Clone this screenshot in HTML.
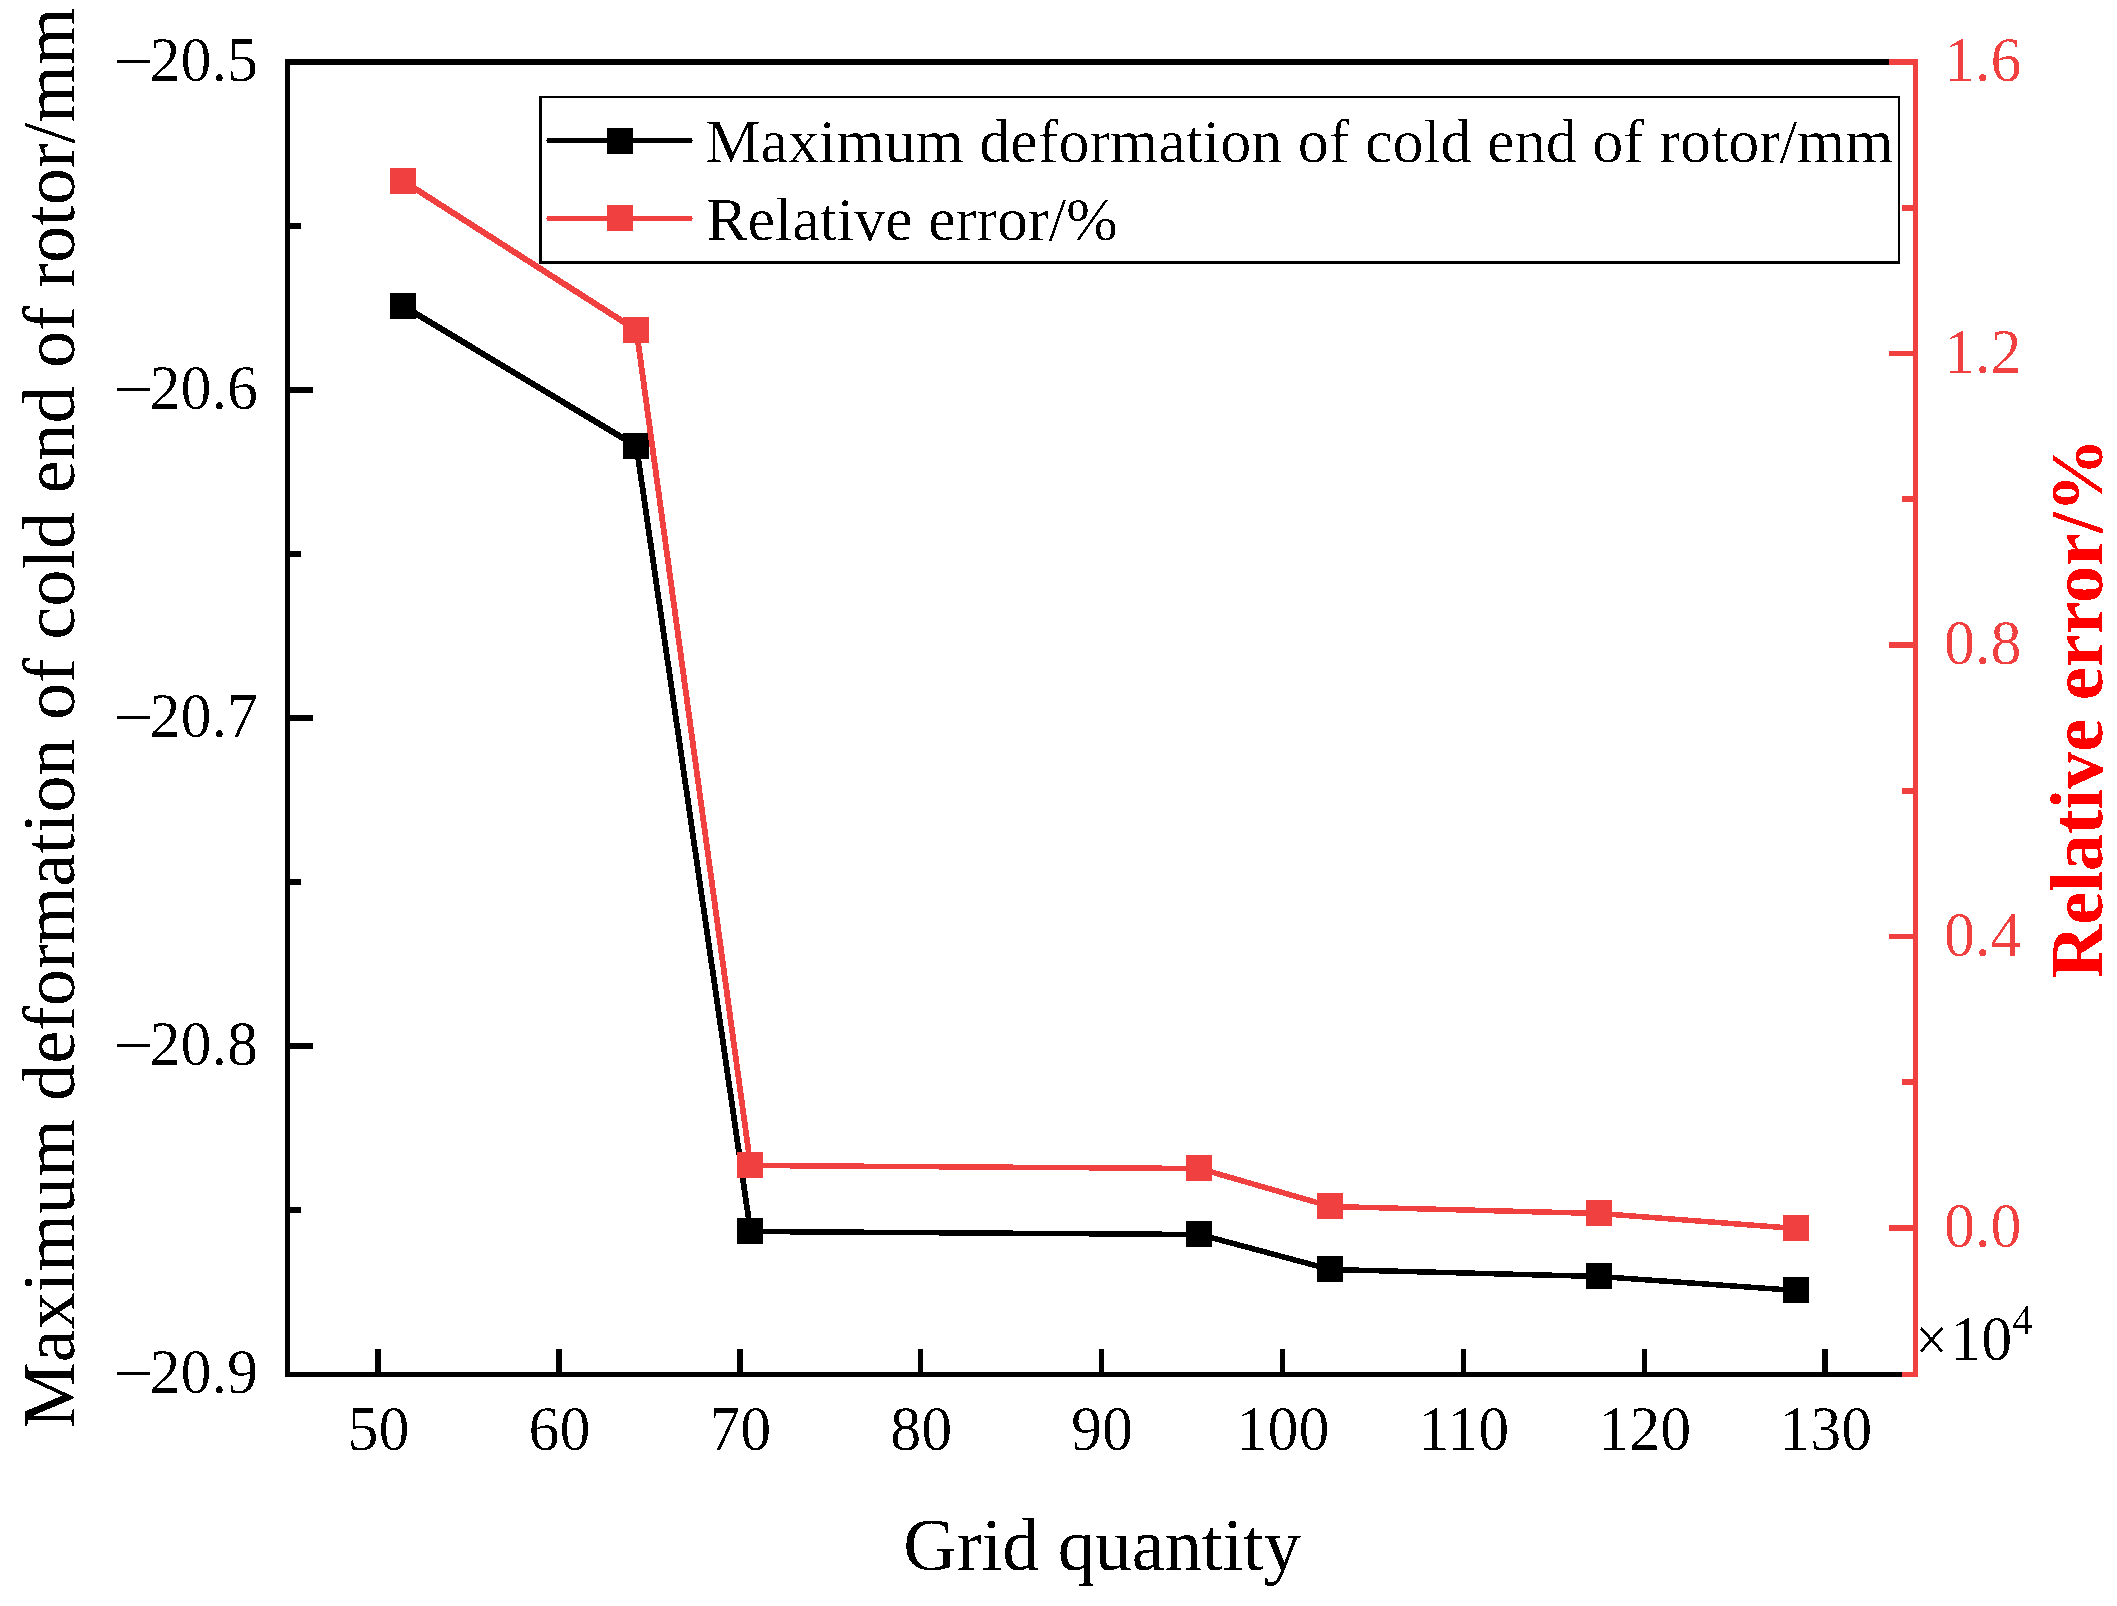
<!DOCTYPE html>
<html lang="en"><head><meta charset="utf-8"><title>Grid independence</title>
<style>html,body{margin:0;padding:0;background:#fff}svg{display:block}text{font-family:"Liberation Serif",serif}</style></head><body>
<svg width="2117" height="1606" viewBox="0 0 2117 1606">
<rect width="2117" height="1606" fill="#fff"/>
<defs><filter id="bi" x="-5%" y="-5%" width="110%" height="110%" color-interpolation-filters="sRGB"><feComponentTransfer><feFuncA type="discrete" tableValues="0 0 1"/></feComponentTransfer></filter><filter id="bj" x="-5%" y="-5%" width="110%" height="110%" color-interpolation-filters="sRGB"><feComponentTransfer><feFuncA type="discrete" tableValues="0 1"/></feComponentTransfer></filter></defs>
<g fill="#000">
<g stroke="#000" shape-rendering="crispEdges">
<line x1="403.5" y1="306.2" x2="636.5" y2="446.2" stroke-width="6.1"/>
<line x1="636.5" y1="446.5" x2="750.5" y2="1231.5" stroke-width="5.8"/>
<line x1="750.5" y1="1231.5" x2="1199.5" y2="1234.5" stroke-width="5.5"/>
<line x1="1199.5" y1="1234.5" x2="1330.5" y2="1269.5" stroke-width="5.6"/>
<line x1="1330.5" y1="1269.5" x2="1599.5" y2="1276.5" stroke-width="5.5"/>
<line x1="1599.5" y1="1276.5" x2="1796.5" y2="1290.5" stroke-width="5.5"/>
</g>
<rect x="390" y="293" width="26" height="26"/>
<rect x="623" y="433" width="26" height="26"/>
<rect x="737" y="1218" width="26" height="26"/>
<rect x="1186" y="1221" width="26" height="26"/>
<rect x="1317" y="1256" width="26" height="26"/>
<rect x="1586" y="1263" width="26" height="26"/>
<rect x="1783" y="1277" width="26" height="26"/>
</g>
<g fill="#F14040">
<g stroke="#F14040" shape-rendering="crispEdges">
<line x1="403.5" y1="181.2" x2="636.5" y2="330.2" stroke-width="6.1"/>
<line x1="636.5" y1="330.5" x2="750.5" y2="1165.5" stroke-width="5.8"/>
<line x1="750.5" y1="1165.5" x2="1199.5" y2="1168.5" stroke-width="5.5"/>
<line x1="1199.5" y1="1168.5" x2="1330.5" y2="1206.5" stroke-width="5.6"/>
<line x1="1330.5" y1="1206.5" x2="1599.5" y2="1213.5" stroke-width="5.5"/>
<line x1="1599.5" y1="1213.5" x2="1796.5" y2="1228.5" stroke-width="5.5"/>
</g>
<rect x="390" y="168" width="26" height="26"/>
<rect x="623" y="317" width="26" height="26"/>
<rect x="737" y="1152" width="26" height="26"/>
<rect x="1186" y="1155" width="26" height="26"/>
<rect x="1317" y="1193" width="26" height="26"/>
<rect x="1586" y="1200" width="26" height="26"/>
<rect x="1783" y="1215" width="26" height="26"/>
</g>
<g fill="#000">
<rect x="285" y="59" width="5" height="1318"/>
<rect x="285" y="1372" width="1617" height="5"/>
<rect x="285" y="59" width="1604" height="6"/>
<rect x="285" y="59" width="28" height="6"/>
<rect x="285" y="223" width="16" height="6"/>
<rect x="285" y="387" width="28" height="6"/>
<rect x="285" y="551" width="16" height="6"/>
<rect x="285" y="715" width="28" height="6"/>
<rect x="285" y="879" width="16" height="6"/>
<rect x="285" y="1043" width="28" height="6"/>
<rect x="285" y="1207" width="16" height="6"/>
<rect x="375" y="1349" width="6" height="28"/>
<rect x="556" y="1349" width="6" height="28"/>
<rect x="737" y="1349" width="6" height="28"/>
<rect x="918" y="1349" width="5" height="28"/>
<rect x="1099" y="1349" width="5" height="28"/>
<rect x="1280" y="1349" width="5" height="28"/>
<rect x="1461" y="1349" width="5" height="28"/>
<rect x="1642" y="1349" width="5" height="28"/>
<rect x="1822" y="1349" width="6" height="28"/>
</g>
<g fill="#F14040">
<rect x="1913" y="59" width="5" height="1318"/>
<rect x="1889" y="59" width="29" height="6"/>
<rect x="1902" y="205" width="16" height="6"/>
<rect x="1889" y="351" width="29" height="5"/>
<rect x="1902" y="496" width="16" height="6"/>
<rect x="1889" y="642" width="29" height="6"/>
<rect x="1902" y="788" width="16" height="6"/>
<rect x="1889" y="934" width="29" height="5"/>
<rect x="1902" y="1079" width="16" height="6"/>
<rect x="1889" y="1225" width="29" height="6"/>
<rect x="1902" y="1372" width="16" height="5"/>
</g>
<g font-size="62" fill="#000" filter="url(#bi)">
<text transform="translate(258 81.3) scale(1 1.03)" text-anchor="end"><tspan dy="1.3" textLength="39.8" lengthAdjust="spacingAndGlyphs">−</tspan><tspan dx="-3.9" dy="-1.3">20.5</tspan></text>
<text transform="translate(258 409.3) scale(1 1.03)" text-anchor="end"><tspan dy="1.3" textLength="39.8" lengthAdjust="spacingAndGlyphs">−</tspan><tspan dx="-3.9" dy="-1.3">20.6</tspan></text>
<text transform="translate(258 737.3) scale(1 1.03)" text-anchor="end"><tspan dy="1.3" textLength="39.8" lengthAdjust="spacingAndGlyphs">−</tspan><tspan dx="-3.9" dy="-1.3">20.7</tspan></text>
<text transform="translate(258 1065.3) scale(1 1.03)" text-anchor="end"><tspan dy="1.3" textLength="39.8" lengthAdjust="spacingAndGlyphs">−</tspan><tspan dx="-3.9" dy="-1.3">20.8</tspan></text>
<text transform="translate(258 1393.3) scale(1 1.03)" text-anchor="end"><tspan dy="1.3" textLength="39.8" lengthAdjust="spacingAndGlyphs">−</tspan><tspan dx="-3.9" dy="-1.3">20.9</tspan></text>
<text transform="translate(378.5 1450) scale(1 1.03)" text-anchor="middle">50</text>
<text transform="translate(559.4 1450) scale(1 1.03)" text-anchor="middle">60</text>
<text transform="translate(740.3 1450) scale(1 1.03)" text-anchor="middle">70</text>
<text transform="translate(921.2 1450) scale(1 1.03)" text-anchor="middle">80</text>
<text transform="translate(1102.1 1450) scale(1 1.03)" text-anchor="middle">90</text>
<text transform="translate(1283 1450) scale(1 1.03)" text-anchor="middle">100</text>
<text transform="translate(1463.9 1450) scale(1 1.03)" text-anchor="middle">110</text>
<text transform="translate(1644.8 1450) scale(1 1.03)" text-anchor="middle">120</text>
<text transform="translate(1825.7 1450) scale(1 1.03)" text-anchor="middle">130</text>
</g>
<g font-size="62" fill="#F14040" filter="url(#bi)">
<text transform="translate(1944 81.4) scale(1 1.03)">1.6</text>
<text transform="translate(1944 372.9) scale(1 1.03)">1.2</text>
<text transform="translate(1944 664.4) scale(1 1.03)">0.8</text>
<text transform="translate(1944 955.9) scale(1 1.03)">0.4</text>
<text transform="translate(1944 1247.4) scale(1 1.03)">0.0</text>
</g>
<text transform="translate(1915.2 1359.9) scale(1 1.03)" font-size="62" fill="#000" filter="url(#bi)"><tspan dy="1.2" textLength="32.5" lengthAdjust="spacingAndGlyphs">×</tspan><tspan dx="2.5" dy="-1.2">10</tspan><tspan font-size="41.3" dy="-25.2">4</tspan></text>
<text transform="translate(1102 1569.8) scale(1 1)" font-size="74.15" text-anchor="middle" fill="#000" filter="url(#bj)">Grid quantity</text>
<text transform="translate(74.2 717.8) rotate(-90) scale(1 1)" font-size="74.15" text-anchor="middle" fill="#000" filter="url(#bj)">Maximum deformation of cold end of rotor/mm</text>
<text transform="translate(2102.2 978.3) rotate(-90) scale(1 1)" font-size="74.15" font-weight="bold" fill="#FF0000" filter="url(#bj)">Relative error/%</text>
<g fill="#000">
<rect x="539" y="96" width="1361" height="168"/>
</g>
<rect x="542" y="98" width="1356" height="163" fill="#fff"/>
<g fill="#000">
<rect x="547" y="138" width="145" height="5"/>
<rect x="546" y="140" width="147" height="1"/>
</g>
<g fill="#F14040">
<rect x="547" y="216" width="145" height="5"/>
<rect x="546" y="218" width="147" height="1"/>
</g>
<rect x="607" y="128" width="26" height="26" fill="#000"/>
<rect x="607" y="205" width="26" height="26" fill="#F14040"/>
<g font-size="62" fill="#000" filter="url(#bi)">
<text transform="translate(705.4 162) scale(1 1)">Maximum deformation of cold end of rotor/mm</text>
<text transform="translate(706.2 239.7) scale(1 1)">Relative error/%</text>
</g>
</svg></body></html>
